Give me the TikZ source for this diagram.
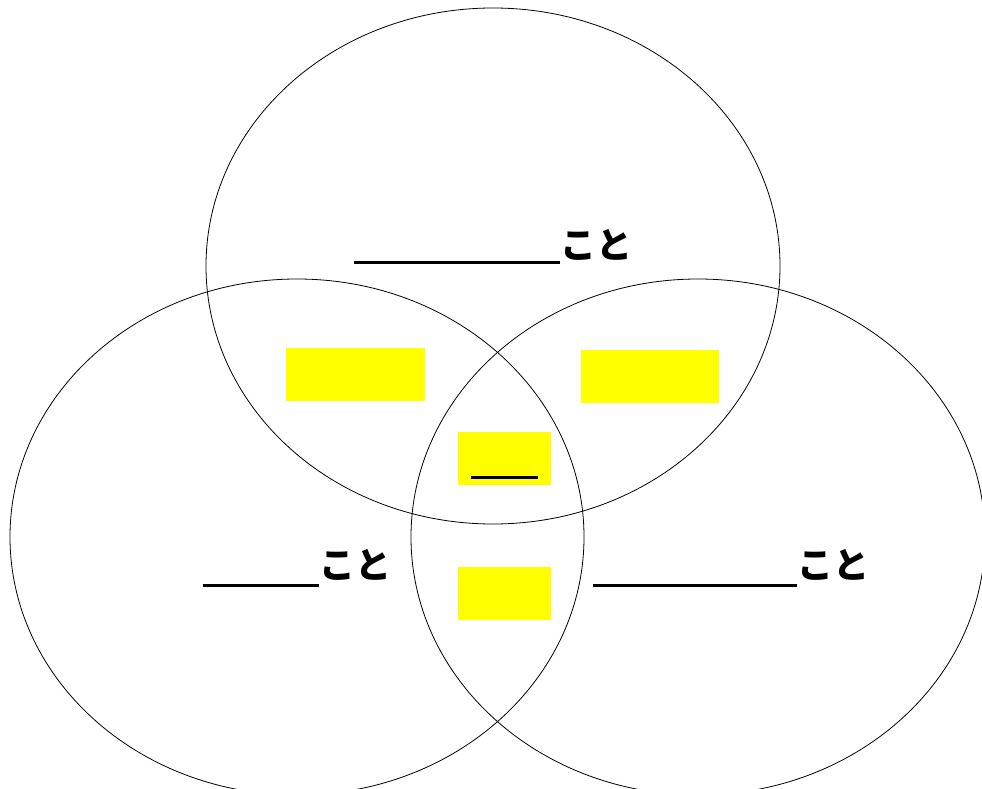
\documentclass[tikz,border=0pt]{standalone}
\usepackage{fontspec}
\newfontfamily\cjk{Noto Sans CJK JP}
\usetikzlibrary{shapes.geometric}
\definecolor{pureyellow}{RGB}{255,255,0}
\tikzset{
  venn/.style={draw=black, line width=0.8pt, ellipse, minimum width=574pt, minimum height=516pt, inner sep=0pt},
  ybox/.style={fill=pureyellow, draw=none, anchor=north west, inner sep=0pt},
  koto/.style={font=\cjk\bfseries\fontsize{36}{40}\selectfont, anchor=west, inner sep=0pt},
  uline/.style={line width=3pt}
}
\begin{document}
\begin{tikzpicture}[x=1pt,y=-1pt]
\useasboundingbox (0,0) rectangle (982,789);
\node[venn] (top) at (493,266) {};
\node[venn] (left) at (297,537) {};
\node[venn] (right) at (698,537) {};
\node[ybox, minimum width=139pt, minimum height=53pt] (ul) at (286,348) {};
\node[ybox, minimum width=138pt, minimum height=53pt] (ur) at (581,350) {};
\node[ybox, minimum width=93pt, minimum height=53pt] (ct) at (458,432) {};
\node[ybox, minimum width=93pt, minimum height=53pt] (cb) at (458,567) {};
\draw[uline] (471,477) -- (538,477);
\node[koto] (kt) at (560,245) {こと};
\draw[uline] (354,262) -- (kt.west |- 0,262);
\node[koto] (kl) at (319,565) {こと};
\draw[uline] (203,585) -- (kl.west |- 0,585);
\node[koto] (kr) at (797,565) {こと};
\draw[uline] (593,585) -- (kr.west |- 0,585);
\end{tikzpicture}
\end{document}
